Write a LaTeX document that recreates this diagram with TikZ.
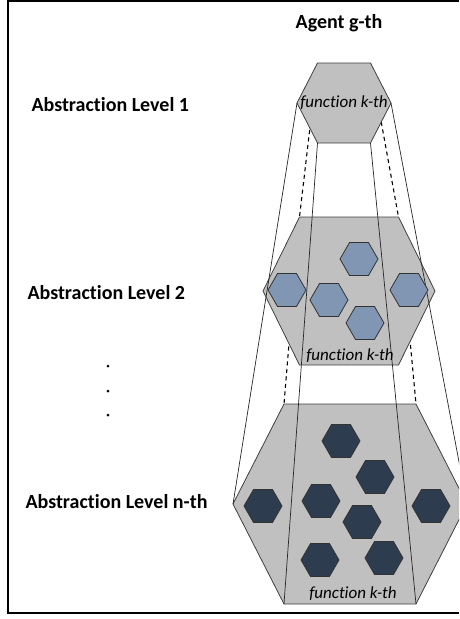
\documentclass[tikz,border=0pt]{standalone}
\usepackage{fontspec}
\setmainfont{Carlito}[Ligatures=NoCommon]
\usetikzlibrary{shapes.geometric}

\definecolor{hexgray}{RGB}{192,192,192}
\definecolor{hexedge}{RGB}{64,64,64}
\definecolor{blueface}{RGB}{128,150,178}
\definecolor{navyface}{RGB}{46,60,80}

% corners of a level hexagon: name, centre x, centre y, half width, half top edge, half height
\newcommand{\levelhex}[6]{%
  \coordinate (#1-l)  at (#2-#4,#3);
  \coordinate (#1-tl) at (#2-#5,#3-#6);
  \coordinate (#1-tr) at (#2+#5,#3-#6);
  \coordinate (#1-r)  at (#2+#4,#3);
  \coordinate (#1-br) at (#2+#5,#3+#6);
  \coordinate (#1-bl) at (#2-#5,#3+#6);
}

\begin{document}
\begin{tikzpicture}[x=1pt, y=-1pt]
    \tikzstyle{level} = [fill=hexgray, draw=hexedge, line width=0.8pt, line join=round]
    \tikzstyle{edge} = [draw=black!85, line width=0.7pt]
    \tikzstyle{hidden} = [draw=black, line width=1.1pt, dash pattern=on 4pt off 3.5pt]
    \tikzstyle{unit} = [regular polygon, regular polygon sides=6, minimum size=38pt, inner sep=0pt, draw=black!80, line width=0.8pt]
    \tikzstyle{subunit} = [unit, fill=blueface]
    \tikzstyle{leaf} = [unit, fill=navyface]
    \tikzstyle{levelname} = [anchor=west, font=\fontsize{20}{24}\selectfont\bfseries]
    \tikzstyle{func} = [font=\fontsize{17}{20}\selectfont\itshape, inner sep=0pt]

    \useasboundingbox (0,0) rectangle (459,619);
    \clip (0,0) rectangle (459,619);

    % frame
    \draw [line width=2pt] (459,1) -- (8,1) -- (8,613) -- (459,613);

    \levelhex{h1}{344}{103}{47}{26.5}{40}
    \levelhex{h2}{349}{291}{86}{49.5}{74}
    \levelhex{h3}{350}{504}{117}{66}{100}

    % back edges
    \draw [hidden] (h1-tl) -- (h2-tl) -- (h3-tl);
    \draw [hidden] (h1-tr) -- (h2-tr) -- (h3-tr);

    \foreach \h in {h1,h2,h3}
        \draw [level] (\h-l) -- (\h-tl) -- (\h-tr) -- (\h-r) -- (\h-br) -- (\h-bl) -- cycle;

    % front edges
    \foreach \c in {l,bl,br,r}
        \draw [edge] (h1-\c) -- (h3-\c);

    \foreach \x/\y [count=\i] in {359/259, 287/290, 329/300, 365/323, 409/290}
        \node [subunit] (s\i) at (\x,\y) {};
    \foreach \x/\y [count=\i] in {341/441, 375/477, 263/506, 321/501, 362/522, 431/506, 320/560, 384/558}
        \node [leaf] (u\i) at (\x,\y) {};

    \node [func] (f1) at (344,103) {function k-th};
    \node [func] (f2) at (350,356) {function k-th};
    \node [func] (f3) at (353,594) {function k-th};

    \node [font=\fontsize{20}{24}\selectfont\bfseries] (agent) at (339,23) {Agent g-th};
    \node [levelname] (lev1) at (28,105) {Abstraction Level 1};
    \node [levelname] (lev2) at (24,293) {Abstraction Level 2};
    \node [levelname] (levn) at (22,502) {Abstraction Level n-th};
    \foreach \y in {366,391,415}
        \fill (108,\y) circle (1.5pt);
\end{tikzpicture}
\end{document}
